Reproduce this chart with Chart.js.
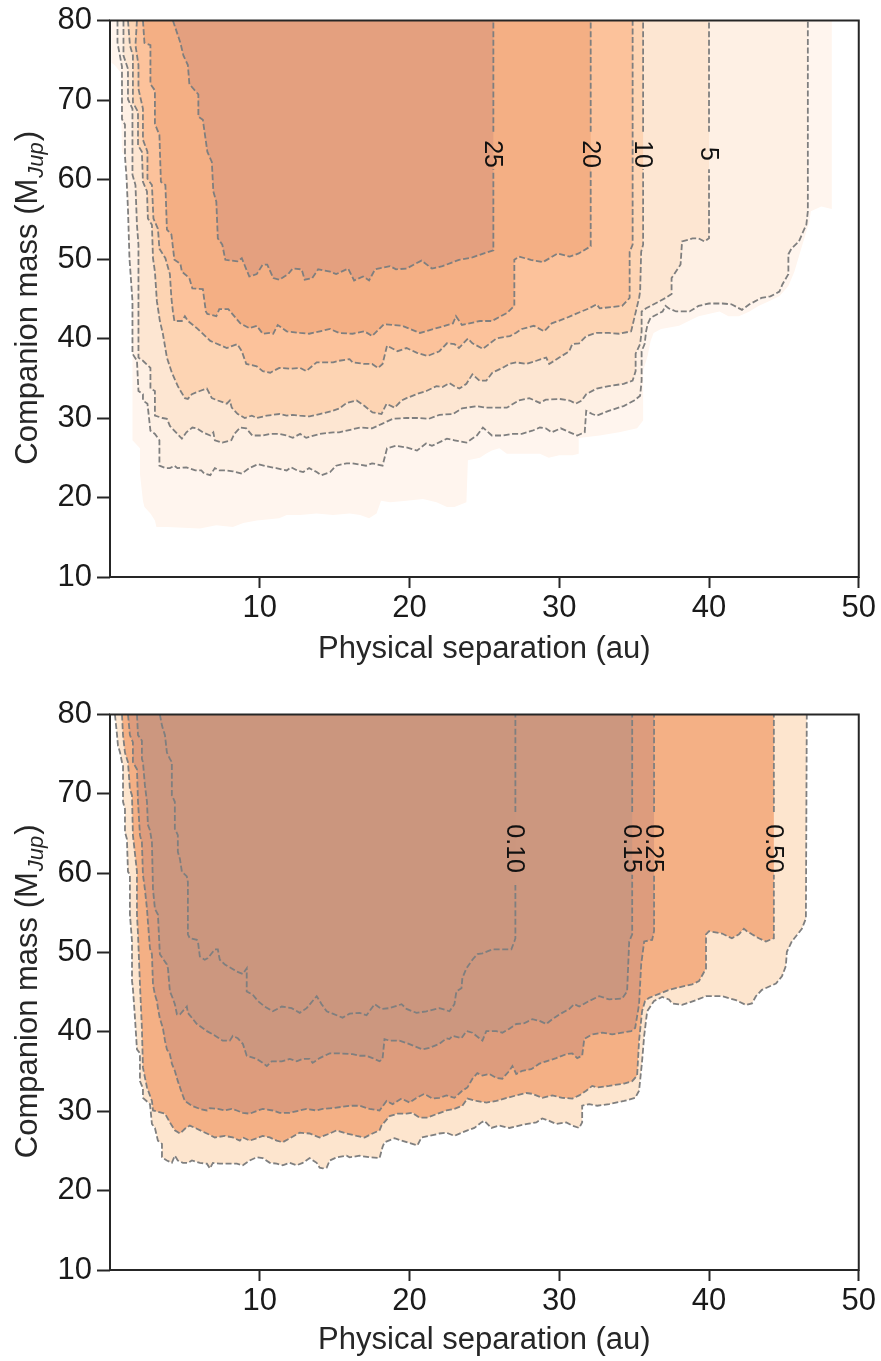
<!DOCTYPE html>
<html><head><meta charset="utf-8">
<script src="https://cdn.jsdelivr.net/npm/chart.js@4.4.1/dist/chart.umd.min.js"></script>
<style>
html,body{margin:0;padding:0;background:#fff;}
#w1{position:absolute;left:0;top:0;width:881px;height:690px;}
#w2{position:absolute;left:0;top:694px;width:881px;height:667px;}
</style></head><body>
<div id="w1"><canvas id="c1" width="881" height="690"></canvas></div>
<div id="w2"><canvas id="c2" width="881" height="667"></canvas></div>
<script>
const xTicks = [10,20,30,40,50];
const yTicks = [10,20,30,40,50,60,70,80];

// ---- Top panel: contour boundaries [separation au, mass MJup] ----
const topOuter = [[0.1,80],[0.1,74.7],[0.3,74.4],[0.7,73.5],[0.8,63.5],[1.2,62.5],[1.5,61.8],[1.5,27.2],[2.0,26.2],[2.0,23.0],[2.2,19.6],[2.3,18.8],[2.7,18.0],[3.0,17.1],[3.1,16.3],[3.8,16.3],[6.0,16.1],[7.1,16.5],[8.2,16.3],[8.9,16.8],[9.8,17.1],[11.3,17.4],[11.8,17.8],[12.7,17.8],[13.8,18.0],[14.9,17.8],[16.0,18.0],[16.7,17.8],[17.3,17.4],[17.8,18.0],[18.1,19.6],[18.7,19.4],[19.8,19.6],[20.9,19.8],[21.8,19.4],[22.5,18.8],[23.0,18.8],[23.8,19.4],[23.9,24.7],[24.7,25.0],[25.1,25.5],[25.5,25.9],[26.0,26.2],[26.5,25.5],[27.3,25.5],[28.2,25.5],[28.7,25.5],[29.3,25.0],[30.0,25.3],[30.9,25.3],[31.3,25.5],[31.3,27.5],[32.7,27.8],[34.0,28.2],[35.2,28.7],[35.6,29.7],[35.6,35.9],[35.9,37.8],[36.1,39.7],[36.3,40.7],[36.8,41.2],[38.0,41.6],[39.3,42.8],[40.7,43.4],[41.3,42.8],[42.0,42.8],[42.7,43.4],[43.3,44.1],[44.0,44.7],[44.7,45.3],[45.3,46.6],[45.7,48.4],[46.0,50.3],[46.3,52.2],[46.7,54.7],[46.8,56.0],[47.5,56.6],[48.2,56.3],[48.2,80]];
const top1 = [[0.5,80],[0.5,77.2],[0.8,74.2],[0.8,67.6],[1.0,66.9],[1.0,62.9],[1.1,60.4],[1.2,56.3],[1.3,50.1],[1.5,44.7],[1.5,38.1],[1.8,37.2],[1.9,33.4],[2.2,33.0],[2.2,32.2],[2.5,31.8],[2.7,28.4],[3.0,28.0],[3.3,27.2],[3.3,24.0],[3.7,23.7],[4.0,23.7],[4.3,24.0],[4.5,23.7],[5.1,23.8],[5.7,23.4],[6.1,23.4],[6.3,23.0],[6.7,22.8],[7.0,23.7],[7.3,23.4],[7.8,23.4],[8.2,23.3],[8.8,23.0],[9.3,23.7],[9.9,24.2],[10.5,23.9],[11.1,23.7],[11.8,23.4],[12.1,23.8],[12.5,23.4],[12.9,23.2],[13.3,23.7],[13.8,23.2],[14.1,22.8],[14.7,23.2],[15.1,24.0],[15.8,24.3],[16.2,24.3],[17.1,24.0],[17.5,24.3],[18.2,24.0],[18.5,26.2],[19.1,26.5],[19.8,26.3],[20.5,25.9],[21.1,26.8],[21.5,26.5],[22.5,27.4],[23.0,27.2],[23.8,26.9],[24.5,27.8],[24.9,28.8],[25.5,27.8],[26.2,27.8],[26.9,28.0],[27.5,28.0],[28.2,28.4],[28.7,28.8],[29.1,28.7],[29.5,28.2],[30.1,28.7],[30.7,28.2],[31.2,27.8],[31.7,28.2],[31.8,30.9],[32.2,30.5],[32.5,30.3],[33.3,30.9],[34.3,31.5],[35.0,32.2],[35.4,32.8],[35.5,34.7],[35.5,38.4],[35.7,39.3],[35.8,40.9],[35.9,41.8],[36.1,42.6],[36.9,43.4],[37.1,44.1],[37.3,43.8],[37.8,43.4],[38.7,43.4],[39.3,44.1],[40.0,44.4],[40.9,44.4],[41.5,44.3],[42.2,43.6],[42.7,44.3],[43.5,45.1],[44.1,45.3],[44.7,45.9],[44.9,46.8],[45.3,48.1],[45.3,50.6],[45.5,51.3],[46.0,52.2],[46.3,53.5],[46.5,54.3],[46.6,56.0],[46.6,80]];
const top5 = [[0.9,80],[0.9,75.6],[1.2,73.9],[1.2,70.1],[1.5,68.9],[1.5,60.6],[1.7,59.3],[1.8,54.3],[1.9,51.8],[1.9,47.6],[1.9,44.7],[1.9,37.6],[2.2,37.2],[2.7,36.3],[2.7,33.7],[3.0,33.4],[3.0,30.3],[3.5,30.0],[3.8,29.9],[4.0,29.0],[4.5,28.0],[4.8,27.4],[5.1,28.2],[5.5,28.8],[5.8,28.7],[6.2,28.2],[6.7,27.8],[6.9,28.2],[7.0,27.2],[7.5,26.9],[8.1,27.2],[8.3,28.0],[8.7,28.8],[9.1,28.7],[9.5,27.8],[10.2,27.8],[10.7,28.0],[11.3,28.0],[11.8,27.8],[12.2,27.5],[12.7,28.0],[13.1,27.5],[14.0,28.0],[14.9,28.2],[15.3,28.2],[16.7,28.8],[17.5,28.7],[18.2,29.3],[18.9,29.9],[19.8,30.0],[20.7,30.0],[21.3,29.9],[22.0,30.4],[22.9,30.5],[23.5,31.2],[24.5,31.5],[25.1,31.3],[26.0,31.3],[26.5,31.3],[27.3,32.2],[28.0,32.5],[28.7,31.9],[29.1,32.3],[30.0,32.4],[30.7,32.2],[31.1,31.8],[31.5,32.2],[31.8,33.0],[32.5,33.7],[33.3,34.0],[34.3,34.3],[34.9,34.7],[35.1,35.9],[35.1,38.1],[35.4,39.3],[35.5,40.9],[35.5,43.4],[35.8,43.8],[37.1,45.1],[37.5,45.6],[37.5,47.6],[38.1,49.3],[38.2,52.2],[38.9,52.6],[39.3,52.6],[39.7,52.2],[40.0,52.6],[40.0,80]];
const top10 = [[1.2,80],[1.33,76.9],[1.53,75.6],[1.53,69.7],[1.87,68.5],[1.87,64.3],[2.13,63.5],[2.2,59.7],[2.47,58.5],[2.53,55.1],[2.8,54.3],[2.87,50.1],[3.0,48.4],[3.13,44.7],[3.33,42.2],[3.53,40.6],[3.8,37.6],[4.13,35.7],[4.53,34.0],[5.0,32.5],[5.2,32.4],[5.47,33.0],[6.0,33.4],[6.47,33.7],[6.8,32.5],[7.2,32.2],[7.8,31.8],[8.0,32.2],[8.13,31.3],[8.53,30.5],[9.0,30.0],[9.47,30.3],[9.8,30.0],[10.47,30.3],[11.33,30.5],[11.8,30.3],[12.2,30.4],[12.67,30.3],[13.33,30.2],[14.0,30.5],[14.87,30.9],[15.33,31.2],[15.8,31.9],[16.47,32.2],[17.0,31.5],[17.53,30.7],[18.13,30.5],[18.47,31.8],[19.0,31.3],[19.47,32.2],[19.8,32.5],[20.47,33.0],[21.13,33.4],[21.8,34.0],[22.2,33.9],[22.67,34.4],[23.0,34.0],[23.33,33.7],[23.8,34.3],[24.2,35.5],[24.67,34.7],[25.13,34.7],[25.53,35.7],[26.2,36.3],[26.67,36.8],[27.13,37.0],[27.8,36.8],[28.47,37.2],[29.13,37.6],[29.33,36.8],[30.0,37.6],[30.67,38.4],[30.87,39.3],[31.33,39.4],[31.8,40.3],[32.47,40.7],[33.33,40.7],[34.0,40.6],[34.8,40.9],[35.33,45.1],[35.4,45.9],[35.47,50.9],[35.6,51.8],[35.6,80]];
const top15 = [[1.8,80],[1.7,76.9],[1.9,74.4],[1.9,71.4],[2.2,68.9],[2.2,65.0],[2.5,63.5],[2.5,60.1],[2.8,59.3],[2.9,55.1],[3.2,53.8],[3.3,51.3],[3.7,50.1],[4.0,48.1],[4.1,45.1],[4.2,43.4],[4.3,42.2],[4.8,42.2],[5.0,42.8],[5.2,42.2],[5.8,41.3],[6.7,39.7],[7.8,38.8],[8.5,39.3],[8.8,38.4],[9.1,36.8],[9.8,36.5],[10.2,35.9],[10.7,35.7],[11.3,36.3],[12.0,36.2],[12.7,36.3],[13.1,35.9],[13.8,37.0],[14.9,37.0],[15.3,37.2],[16.0,37.4],[16.2,37.0],[17.0,36.8],[17.5,36.8],[17.9,36.3],[18.2,36.8],[18.5,39.1],[19.2,38.4],[19.8,38.8],[20.5,38.2],[21.2,37.8],[22.0,38.4],[22.5,39.4],[23.0,39.3],[23.3,38.8],[23.9,40.0],[24.2,39.4],[24.9,38.7],[25.8,40.0],[26.7,40.3],[27.1,40.7],[27.5,41.2],[28.3,41.6],[29.0,40.9],[29.5,41.9],[30.5,42.6],[31.1,43.1],[32.0,43.8],[32.5,44.3],[32.7,43.8],[34.2,44.1],[34.7,45.1],[34.7,50.9],[34.9,51.8],[34.9,80]];
const top20 = [[2.2,80],[2.3,77.2],[2.7,76.9],[2.7,72.0],[3.0,71.2],[3.0,67.0],[3.3,65.6],[3.4,59.7],[3.7,59.3],[3.8,53.7],[4.1,53.1],[4.3,49.9],[4.7,49.4],[4.8,48.4],[5.3,47.6],[5.5,46.3],[6.2,46.2],[6.4,43.4],[6.5,43.1],[7.1,42.8],[7.3,43.7],[7.9,43.7],[8.7,41.9],[9.3,41.3],[9.8,41.6],[10.2,40.6],[10.7,40.7],[10.9,40.6],[11.2,41.7],[11.8,40.9],[12.7,40.7],[13.3,40.6],[14.7,41.2],[15.3,40.7],[16.2,40.6],[17.0,40.9],[17.5,40.3],[18.3,41.8],[19.5,41.6],[20.7,40.7],[21.8,41.3],[22.9,41.9],[23.1,42.8],[23.5,41.7],[24.7,42.2],[25.5,42.2],[26.5,43.2],[27.0,44.1],[27.0,49.9],[27.3,50.3],[28.1,49.9],[28.9,49.6],[29.9,50.7],[30.7,50.3],[31.3,50.7],[32.1,51.6],[32.1,80]];
const top25 = [[4.2,80],[4.7,77.2],[4.9,75.6],[5.2,74.4],[5.3,72.0],[5.9,70.7],[5.9,67.9],[6.2,67.5],[6.5,63.5],[6.8,62.2],[6.9,58.5],[7.1,57.2],[7.2,52.6],[7.5,51.8],[7.7,49.9],[8.5,49.7],[8.8,50.1],[9.3,47.8],[9.8,48.1],[10.2,49.3],[10.5,49.3],[10.9,47.6],[11.3,47.4],[11.9,48.1],[12.2,48.8],[12.8,48.7],[13.0,47.4],[13.5,47.6],[13.9,48.7],[14.7,48.4],[15.1,48.1],[15.9,48.8],[16.3,47.3],[16.9,47.8],[17.3,47.3],[17.7,48.7],[18.7,49.1],[19.1,48.7],[19.8,48.8],[20.8,49.8],[21.5,48.8],[22.2,49.1],[23.3,49.9],[24.2,50.2],[25.1,50.8],[25.6,51.1],[25.6,80]];

// ---- Bottom panel ----
const botOuter = [[0.33,80],[0.47,77.4],[0.53,76.1],[0.67,75.2],[0.8,74.0],[0.87,73.7],[0.87,69.0],[1.0,68.1],[1.0,65.2],[1.13,64.3],[1.2,60.2],[1.33,59.8],[1.33,54.8],[1.47,51.4],[1.47,46.4],[1.53,45.5],[1.67,41.7],[1.8,37.8],[2.0,37.3],[2.0,33.8],[2.2,32.9],[2.2,31.7],[2.67,30.9],[2.8,28.4],[3.0,27.9],[3.2,26.3],[3.47,25.9],[3.47,24.2],[3.8,23.8],[4.13,23.5],[4.33,24.4],[4.53,23.8],[4.87,23.5],[5.2,23.5],[5.47,23.8],[6.0,23.5],[6.47,23.4],[6.67,22.8],[6.87,23.5],[7.33,23.4],[7.8,23.4],[8.47,23.4],[8.87,23.2],[9.33,23.8],[9.8,24.2],[10.2,24.1],[10.67,23.5],[11.13,23.4],[11.53,23.2],[12.0,23.5],[12.47,23.2],[12.87,23.5],[13.33,24.1],[13.8,23.5],[14.0,22.9],[14.2,22.8],[14.47,22.9],[14.67,23.8],[15.13,24.2],[15.8,24.4],[16.0,24.2],[16.67,24.4],[17.33,24.2],[18.0,24.1],[18.2,25.5],[18.33,26.1],[19.0,26.6],[19.47,26.3],[20.0,26.0],[20.53,25.7],[20.8,26.7],[21.33,26.9],[22.0,27.2],[22.47,27.3],[23.0,26.9],[23.47,27.3],[23.87,27.6],[24.33,27.9],[24.8,28.6],[25.0,28.8],[25.2,28.4],[25.47,27.9],[26.0,28.2],[26.67,27.9],[27.33,28.2],[27.87,28.4],[28.47,28.6],[28.87,29.1],[29.33,28.8],[29.8,28.4],[30.47,28.6],[30.87,28.2],[31.33,27.9],[31.53,28.6],[31.53,30.7],[32.0,30.9],[32.53,30.7],[33.33,30.9],[34.33,31.3],[35.07,31.7],[35.33,32.6],[35.53,36.3],[35.67,39.5],[35.87,42.6],[36.33,43.9],[36.87,44.4],[37.33,44.1],[37.53,43.6],[38.2,43.4],[39.13,44.0],[39.8,44.5],[40.87,44.5],[41.8,44.0],[42.47,43.4],[42.87,43.6],[43.13,44.5],[43.53,45.3],[44.47,46.1],[44.87,47.0],[45.13,48.3],[45.2,50.1],[45.53,51.4],[46.2,53.0],[46.47,54.3],[46.53,80]];
const bot50 = [[0.8,80],[0.87,77.4],[1.0,75.2],[1.2,74.0],[1.33,70.6],[1.47,69.8],[1.53,64.8],[1.8,60.2],[1.8,54.8],[1.87,52.3],[2.0,46.0],[2.13,40.5],[2.2,35.5],[2.47,33.0],[2.8,31.3],[2.87,30.1],[3.67,29.7],[4.0,28.6],[4.33,27.6],[4.67,27.2],[5.0,27.8],[5.33,28.2],[5.8,27.8],[6.47,27.2],[7.0,26.7],[7.67,26.9],[8.2,26.7],[8.67,26.3],[8.87,26.7],[9.33,26.3],[9.8,26.6],[10.2,26.9],[10.67,26.7],[11.13,26.3],[11.53,26.1],[12.0,26.6],[12.67,27.3],[13.33,27.2],[14.0,26.7],[14.67,27.2],[15.13,27.6],[15.8,27.2],[16.47,26.9],[17.0,26.7],[17.53,27.2],[18.0,27.6],[18.13,28.2],[18.67,29.4],[19.2,29.7],[19.8,29.7],[20.2,29.8],[20.67,29.2],[21.2,29.2],[21.87,29.7],[22.47,30.1],[23.0,30.3],[23.53,30.7],[23.87,31.6],[24.47,31.3],[25.13,31.1],[25.8,31.3],[26.33,31.6],[27.13,32.0],[27.8,32.3],[28.2,32.2],[28.87,31.7],[29.53,32.0],[30.2,31.7],[30.87,31.6],[31.33,32.0],[31.8,32.6],[32.2,33.2],[32.53,33.0],[33.33,33.2],[34.33,33.5],[34.87,33.8],[35.2,34.5],[35.33,38.9],[35.53,42.6],[35.73,43.9],[36.0,44.3],[36.67,44.8],[37.33,45.3],[38.2,45.7],[38.87,46.0],[39.33,46.4],[39.8,48.0],[39.8,52.3],[40.0,52.7],[40.87,52.4],[41.53,51.8],[42.0,52.3],[42.33,53.0],[42.53,52.7],[42.87,52.3],[43.33,51.8],[43.8,51.4],[44.33,51.8],[44.33,80]];
const bot25 = [[1.2,80],[1.33,77.4],[1.53,76.5],[1.53,74.0],[1.8,73.1],[1.87,69.0],[2.0,64.8],[2.13,63.9],[2.2,59.8],[2.33,58.0],[2.47,55.5],[2.53,53.9],[2.67,50.5],[2.8,49.8],[2.87,46.0],[3.0,44.7],[3.13,43.9],[3.2,43.0],[3.33,41.7],[3.53,40.5],[3.67,38.9],[3.8,37.8],[4.0,37.2],[4.13,36.0],[4.33,35.1],[4.53,33.8],[4.8,32.3],[5.0,31.3],[5.47,30.7],[6.0,30.3],[6.47,30.1],[6.67,30.4],[7.2,30.3],[7.67,30.1],[8.13,30.3],[8.47,30.1],[8.87,29.8],[9.33,29.7],[9.87,30.1],[10.2,30.3],[10.87,30.1],[11.33,29.8],[12.0,29.8],[12.67,30.1],[13.13,30.3],[13.8,30.1],[14.2,30.3],[14.87,30.4],[16.0,30.7],[16.67,30.7],[17.33,30.3],[18.0,30.1],[18.47,31.3],[18.87,30.9],[19.47,31.6],[20.0,31.1],[20.47,31.7],[21.0,32.2],[21.53,31.6],[22.0,31.7],[22.47,32.0],[23.0,31.7],[23.53,32.6],[23.87,33.0],[24.2,34.1],[24.53,34.8],[24.87,34.5],[25.33,34.7],[25.8,34.2],[26.2,34.1],[26.67,35.1],[26.87,35.7],[27.13,34.7],[27.53,35.1],[28.13,35.3],[28.67,36.0],[29.13,36.3],[29.8,36.7],[30.47,37.2],[30.87,37.3],[31.2,36.7],[31.53,37.0],[31.67,39.1],[32.2,39.7],[32.87,39.9],[33.53,39.7],[34.2,39.9],[34.8,40.1],[35.07,40.5],[35.33,43.5],[35.47,48.5],[35.67,51.4],[36.2,51.6],[36.33,52.7],[36.33,80]];
const bot15 = [[1.8,80],[1.87,77.4],[2.13,76.7],[2.13,74.4],[2.2,74.0],[2.33,71.1],[2.47,69.0],[2.53,66.1],[2.67,65.4],[2.8,63.9],[2.87,58.0],[3.0,55.5],[3.2,54.8],[3.33,49.8],[3.8,48.5],[3.87,48.0],[4.0,45.1],[4.2,44.2],[4.33,43.5],[4.47,42.2],[4.67,42.2],[5.13,43.2],[5.2,42.4],[5.8,41.0],[6.47,40.1],[6.87,39.7],[7.53,38.9],[8.0,38.9],[8.2,39.5],[8.53,39.2],[8.87,38.5],[9.13,37.0],[9.8,36.6],[10.2,36.1],[10.47,35.7],[10.8,36.3],[11.47,36.3],[12.0,36.6],[12.47,36.3],[12.87,36.6],[13.33,36.6],[13.53,36.1],[14.0,36.7],[14.67,37.3],[15.33,37.3],[16.2,37.2],[16.67,37.0],[17.13,37.0],[17.53,36.7],[18.0,36.3],[18.2,36.6],[18.33,39.1],[18.67,38.9],[19.33,38.9],[19.8,38.6],[20.33,38.2],[20.87,37.8],[21.33,38.0],[22.0,38.5],[22.47,39.2],[22.67,39.1],[22.87,39.5],[23.47,39.2],[23.8,40.1],[24.2,39.9],[24.67,39.2],[24.87,38.9],[25.13,40.1],[25.8,40.1],[26.2,39.9],[26.67,40.4],[27.13,41.0],[27.67,41.1],[28.2,41.6],[28.67,41.4],[29.13,41.0],[29.53,41.6],[30.0,42.2],[30.67,42.9],[31.0,43.5],[31.33,43.2],[32.0,43.9],[32.67,44.5],[33.33,44.1],[34.2,44.2],[34.53,45.1],[34.67,51.4],[34.87,52.3],[34.87,80]];
const bot10 = [[3.33,80],[3.47,78.6],[3.67,77.4],[3.8,75.2],[4.0,74.4],[4.13,74.0],[4.13,69.8],[4.33,69.0],[4.33,65.6],[4.53,64.8],[4.53,62.7],[4.67,61.8],[4.8,60.2],[5.13,59.6],[5.2,58.9],[5.2,52.3],[5.33,51.8],[5.8,51.6],[5.87,51.4],[6.0,49.5],[6.33,49.1],[6.53,49.3],[7.0,50.4],[7.2,50.4],[7.33,49.1],[7.67,48.5],[8.13,48.0],[8.47,47.6],[8.87,47.3],[9.13,48.0],[9.13,45.1],[9.53,44.7],[9.87,43.9],[10.33,43.2],[10.87,42.6],[11.47,43.2],[12.13,43.0],[12.67,42.4],[13.13,43.0],[13.53,43.9],[13.8,44.5],[14.13,43.5],[14.47,42.6],[14.87,42.3],[15.53,41.8],[16.0,42.3],[16.67,42.4],[17.13,42.1],[17.67,43.5],[18.13,42.9],[18.67,43.0],[19.47,43.5],[19.8,42.9],[20.47,42.4],[21.13,42.6],[22.0,43.0],[22.67,42.6],[23.0,43.5],[23.13,45.1],[23.47,45.5],[23.53,46.8],[23.8,48.0],[24.2,49.1],[24.53,49.8],[24.87,49.9],[25.53,50.4],[26.0,50.4],[26.8,50.4],[27.0,51.4],[27.07,51.8],[27.07,80]];

// contour label texts, label centre mass and the line gap (mass range)
const topLabelText = ['25','20','10','5'];
const botLabelText = ['0.10','0.15','0.25','0.50'];
const topLabelMass = 63.2, topGap = [61.3, 66.0];
const botLabelMass = 63.1, botGap10 = [58.5, 67.7], botGap = [59.8, 67.7];

const FAM = '"Liberation Sans", Arial, Helvetica, sans-serif';
const LINE = '#7f7f7f';

function insertGap(pts, gx, y0, y1) {
  const out = [];
  for (let i = 0; i < pts.length; i++) {
    const a = pts[i], b = pts[i+1];
    out.push(a);
    if (b && Math.abs(a[0]-gx) < 1e-9 && Math.abs(b[0]-gx) < 1e-9) {
      const lo = Math.min(a[1], b[1]), hi = Math.max(a[1], b[1]);
      if (lo <= y0 && hi >= y1) {
        if (b[1] > a[1]) out.push([gx, y0], [gx, y1]); else out.push([gx, y1], [gx, y0]);
      }
    }
  }
  return out;
}
const toXY = p => p.map(q => ({x: q[0], y: q[1]}));

const deco = {
  id: 'deco',
  afterDatasetsDraw(chart, args, opts) {
    const {ctx, scales: {x, y}} = chart;
    ctx.save();
    ctx.fillStyle = '#111';
    ctx.font = '25px ' + FAM;
    ctx.textAlign = 'center'; ctx.textBaseline = 'middle';
    for (const L of opts.labels) {
      ctx.save();
      ctx.translate(x.getPixelForValue(L.x), y.getPixelForValue(L.y));
      ctx.rotate(Math.PI / 2);
      ctx.fillText(L.text, 0, 1);
      ctx.restore();
    }
    ctx.restore();
  },
  afterDraw(chart) {
    const {ctx, chartArea: a} = chart;
    ctx.save();
    ctx.strokeStyle = '#262626'; ctx.lineWidth = 2;
    ctx.strokeRect(a.left, a.top, a.right - a.left, a.bottom - a.top);
    const cy = (a.top + a.bottom) / 2;
    ctx.translate(37, cy); ctx.rotate(-Math.PI / 2);
    ctx.fillStyle = '#262626'; ctx.textBaseline = 'alphabetic'; ctx.textAlign = 'left';
    const f1 = '31px ' + FAM, f2 = 'italic 22px ' + FAM;
    ctx.font = f1; const w1 = ctx.measureText('Companion mass (M').width, w3 = ctx.measureText(')').width;
    ctx.font = f2; const w2 = ctx.measureText('Jup').width;
    const x0 = -(w1 + w2 + w3) / 2;
    ctx.font = f1; ctx.fillText('Companion mass (M', x0, 0);
    ctx.font = f2; ctx.fillText('Jup', x0 + w1 + 1, 6);
    ctx.font = f1; ctx.fillText(')', x0 + w1 + w2 + 2, 0);
    ctx.restore();
  }
};

function build(id, outer, contours, xAxisH, titlePad) {
  const datasets = [];
  let ord = 300;
  const fillDs = (pts, color) => ({data: toXY(pts), showLine: true, fill: 'shape', backgroundColor: color,
    borderColor: 'rgba(0,0,0,0)', borderWidth: 0, pointRadius: 0, order: ord--});
  if (outer) datasets.push(fillDs(outer.pts, outer.color));
  for (const c of contours) datasets.push(fillDs(c.pts, c.color));
  const labels = [];
  for (const c of contours) {
    let pts = c.pts, g = null;
    if (c.label) {
      const gx = pts[pts.length - 1][0];
      g = {x: gx, y0: c.gap[0], y1: c.gap[1]};
      pts = insertGap(pts, gx, g.y0, g.y1);
      labels.push({text: c.label, x: gx, y: c.labelY});
    }
    datasets.push({data: toXY(pts), showLine: true, fill: false, borderColor: LINE, borderWidth: 1.8,
      borderDash: [6, 2.6], pointRadius: 0, order: 1,
      segment: {borderColor: s => {
        if (!g) return undefined;
        const p0 = s.p0.parsed, p1 = s.p1.parsed;
        if (Math.abs(p0.x - g.x) < 1e-9 && Math.abs(p1.x - g.x) < 1e-9 &&
            Math.min(p0.y, p1.y) >= g.y0 - 1e-9 && Math.max(p0.y, p1.y) <= g.y1 + 1e-9) return 'rgba(0,0,0,0)';
        return undefined;
      }}});
  }
  new Chart(document.getElementById(id), {
    type: 'scatter',
    data: {datasets},
    plugins: [deco],
    options: {
      responsive: false, animation: false, devicePixelRatio: 1,
      layout: {padding: {left: 0, top: 18, right: 21, bottom: 0}},
      plugins: {legend: {display: false}, tooltip: {enabled: false}, deco: {labels}},
      scales: {
        x: {type: 'linear', min: 0, max: 50,
          afterBuildTicks: s => { s.ticks = xTicks.map(v => ({value: v})); },
          afterFit: s => { s.height = xAxisH; },
          grid: {display: true, drawOnChartArea: false, drawTicks: true, tickLength: 11, tickWidth: 2, tickColor: '#262626'},
          border: {display: false},
          ticks: {font: {size: 31, family: FAM, lineHeight: 1}, color: '#1a1a1a', padding: 5, maxRotation: 0, autoSkip: false},
          title: {display: true, text: 'Physical separation (au)', font: {size: 31, family: FAM}, color: '#262626', padding: {top: 0, bottom: titlePad}}
        },
        y: {type: 'linear', min: 10, max: 80,
          afterBuildTicks: s => { s.ticks = yTicks.map(v => ({value: v})); },
          afterFit: s => { s.width = 110; },
          grid: {display: true, drawOnChartArea: false, drawTicks: true, tickLength: 13, tickWidth: 2, tickColor: '#262626'},
          border: {display: false},
          ticks: {font: {size: 31, family: FAM, lineHeight: 1}, color: '#1a1a1a', padding: 5, autoSkip: false}
        }
      }
    }
  });
}

build('c1', {pts: topOuter, color: '#fff5ee'}, [
  {pts: top1, color: '#fef0e4'},
  {pts: top5, color: '#fde6d2', label: topLabelText[3], labelY: topLabelMass, gap: topGap},
  {pts: top10, color: '#fdd4b3', label: topLabelText[2], labelY: topLabelMass, gap: topGap},
  {pts: top15, color: '#fcc29b'},
  {pts: top20, color: '#f4af84', label: topLabelText[1], labelY: topLabelMass, gap: topGap},
  {pts: top25, color: '#e4a07f', label: topLabelText[0], labelY: topLabelMass, gap: topGap}
], 113, 22);

build('c2', null, [
  {pts: botOuter, color: '#fde5ce'},
  {pts: bot50, color: '#f4b085', label: botLabelText[3], labelY: botLabelMass, gap: botGap},
  {pts: bot25, color: '#dd9c7d', label: botLabelText[2], labelY: botLabelMass, gap: botGap},
  {pts: bot15, color: '#cc977f', label: botLabelText[1], labelY: botLabelMass, gap: botGap},
  {pts: bot10, color: '#cb967e', label: botLabelText[0], labelY: botLabelMass, gap: botGap10}
], 91, 2);
</script>
</body></html>
